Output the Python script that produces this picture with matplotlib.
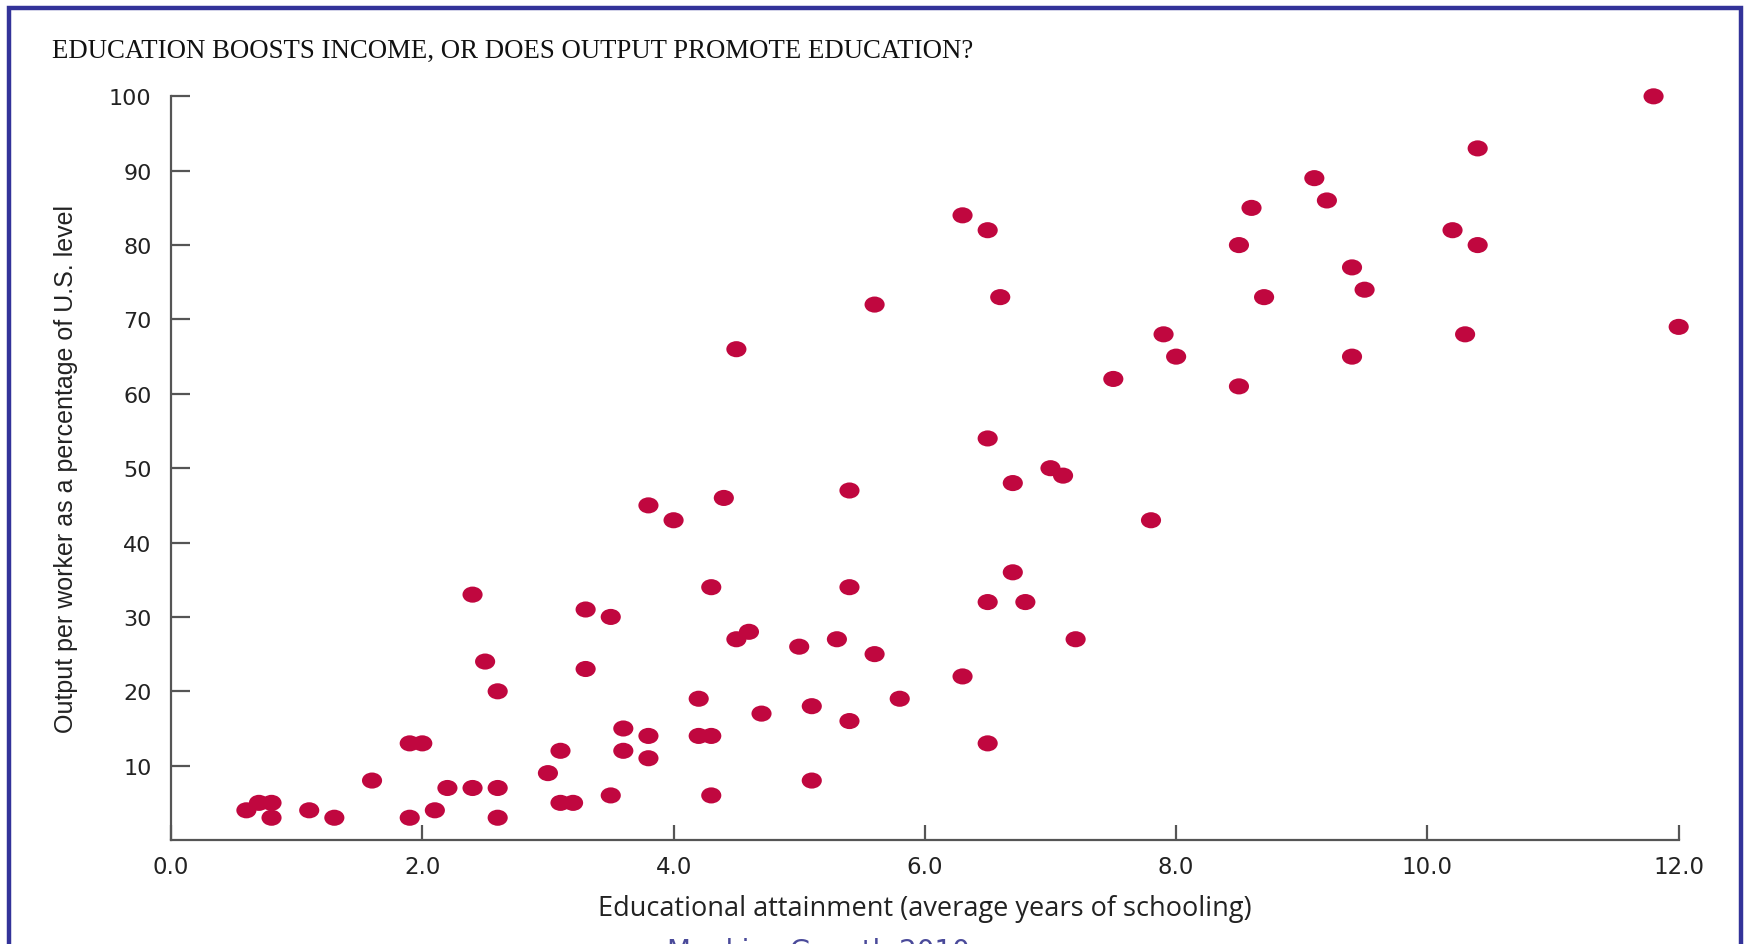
import matplotlib
matplotlib.use("Agg")
import matplotlib.pyplot as plt
from matplotlib.path import Path
from matplotlib.transforms import Affine2D
from matplotlib.patches import Rectangle

# data (years of schooling, output % of U.S.)
schooling = [11.8, 10.4, 9.1, 9.2, 8.6, 6.3, 6.5, 10.2, 8.5, 10.4,
             9.4, 9.5, 6.6, 8.7, 5.6, 12.0, 7.9, 10.3, 4.5, 8.0,
             9.4, 7.5, 8.5, 6.5, 7.0, 7.1, 6.7, 5.4, 4.4, 3.8,
             4.0, 7.8, 6.7, 2.4, 4.3, 5.4, 6.5, 6.8, 3.3, 3.5,
             4.6, 4.5, 5.3, 7.2, 5.0, 5.6, 2.5, 3.3, 6.3, 2.6,
             4.2, 5.8, 5.1, 4.7, 5.4, 3.6, 4.2, 4.3, 3.8, 1.9,
             2.0, 6.5, 3.1, 3.6, 3.8, 3.0, 1.6, 5.1, 2.2, 2.4,
             2.6, 3.5, 4.3, 0.7, 0.8, 3.1, 3.2, 0.6, 1.1, 2.1,
             0.8, 1.3, 1.9, 2.6]
output_pct = [100, 93, 89, 86, 85, 84, 82, 82, 80, 80,
              77, 74, 73, 73, 72, 69, 68, 68, 66, 65,
              65, 62, 61, 54, 50, 49, 48, 47, 46, 45,
              43, 43, 36, 33, 34, 34, 32, 32, 31, 30,
              28, 27, 27, 27, 26, 25, 24, 23, 22, 20,
              19, 19, 18, 17, 16, 15, 14, 14, 14, 13,
              13, 13, 12, 12, 11, 9, 8, 8, 7, 7,
              7, 6, 6, 5, 5, 5, 5, 4, 4, 4,
              3, 3, 3, 3]

x_ticks = [0, 2, 4, 6, 8, 10, 12]
x_labels = ["0.0", "2.0", "4.0", "6.0", "8.0", "10.0", "12.0"]
y_ticks = [10, 20, 30, 40, 50, 60, 70, 80, 90, 100]

dot_color = "#c0073f"
frame_color = "#333399"
axis_color = "#555555"

fig = plt.figure(figsize=(17.45, 9.45), dpi=100)
ax = fig.add_axes([0.098, 0.110, 0.864, 0.787])

# slightly wide oval marker like the printed figure
oval = Path.unit_circle().transformed(Affine2D().scale(1.25, 1.0))
ax.scatter(schooling, output_pct, s=210, marker=oval, color=dot_color,
           edgecolors="none", zorder=3, clip_on=False)

ax.set_xlim(0, 12)
ax.set_ylim(0, 100)
ax.spines["top"].set_visible(False)
ax.spines["right"].set_visible(False)
for sp in ("left", "bottom"):
    ax.spines[sp].set_color(axis_color)
    ax.spines[sp].set_linewidth(1.6)

ax.set_xticks(x_ticks)
ax.set_xticklabels(x_labels, fontsize=16.5, family="DejaVu Sans", color="#222222")
ax.set_yticks(y_ticks)
ax.set_yticklabels([str(v) for v in y_ticks], fontsize=16,
                   family="DejaVu Sans", color="#222222")
ax.tick_params(axis="x", direction="in", length=11, width=1.6, color=axis_color, pad=11)
ax.tick_params(axis="y", direction="in", length=14, width=1.6, color=axis_color, pad=14)

ax.set_xlabel("Educational attainment (average years of schooling)",
              fontsize=19.5, family="Open Sans", color="#222222", labelpad=11)
ax.set_ylabel("Output per worker as a percentage of U.S. level",
              fontsize=18, family="Liberation Sans", color="#222222", labelpad=22)

fig.text(0.030, 0.946, "EDUCATION BOOSTS INCOME, OR DOES OUTPUT PROMOTE EDUCATION?",
         fontsize=19.3, family="Liberation Serif", color="#111111", va="center", ha="left")

# clipped source line at the very bottom
fig.text(0.469, -0.016, "Mankiw, Growth 2010", fontsize=20, family="DejaVu Sans",
         color="#4a4a9a", ha="center", va="baseline")

# blue frame round the slide
fig.patches.append(Rectangle((9 / 1745, -0.05), (1741 - 9) / 1745, 1.05 - 9 / 945,
                             transform=fig.transFigure, fill=False,
                             edgecolor=frame_color, linewidth=3.2))

fig.savefig("out.png", dpi=100)
